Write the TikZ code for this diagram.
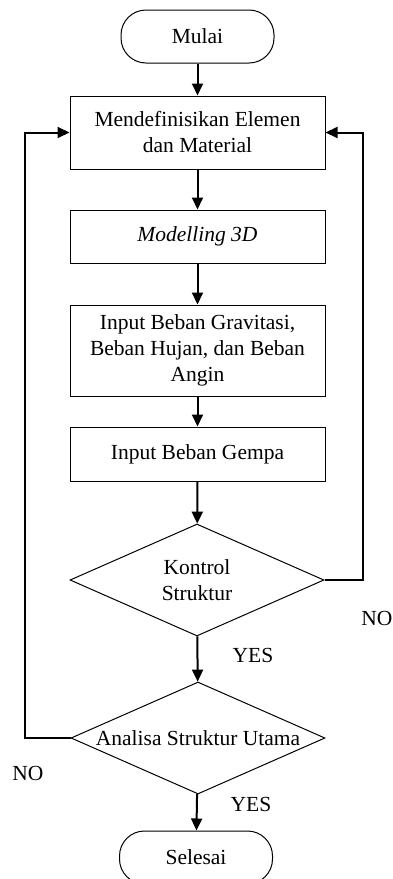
\documentclass[tikz,border=0pt]{standalone}
\usepackage{fontspec}
\setmainfont{Liberation Serif}
\usetikzlibrary{arrows.meta, shapes.geometric}

\begin{document}
\begin{tikzpicture}
[x=0.5pt, y=-0.5pt,
font=\fontsize{10.75}{13}\selectfont,
every node/.style={align=center, inner sep=0pt},
terminal/.style={draw, line width=0.5pt, rounded corners=12.5pt, minimum width=76.5pt, minimum height=26.5pt},
process/.style={draw, line width=0.5pt, minimum width=127.5pt},
decision/.style={draw, diamond, line width=0.5pt, aspect=2.27, minimum width=127pt, minimum height=56pt},
flow/.style={line width=1pt, -{Triangle[length=6pt, width=5.5pt]}}]
\useasboundingbox (0, 0) rectangle (392, 879);
\node [terminal] (mulai) at (197.5, 36.5) {Mulai};
\node [process, minimum height=36.5pt] (elemen) at (197.5, 132.5) {Mendefinisikan Elemen\\dan Material};
\node [process, minimum height=26.5pt] (model) at (197.5, 236.5) {\itshape Modelling 3D};
\node [process, minimum height=45.5pt] (gravitasi) at (197.5, 350.5) {Input Beban Gravitasi,\\Beban Hujan, dan Beban\\Angin};
\node [process, minimum height=27pt] (gempa) at (197.5, 454) {Input Beban Gempa};
\node [decision] (kontrol) at (197, 580) {Kontrol\\Struktur};
\node [decision] (analisa) at (198, 738) {Analisa Struktur Utama};
\node [terminal] (selesai) at (196, 857.5) {Selesai};

\node (no1) at (377, 618) {NO};
\node (yes1) at (253, 655) {YES};
\node (no2) at (28, 773) {NO};
\node (yes2) at (251, 804) {YES};

\foreach \a/\b in {mulai/elemen, elemen/model, model/gravitasi, gravitasi/gempa, gempa/kontrol, kontrol/analisa, analisa/selesai}{
	\draw [flow] (\a) to (\b);
}
\draw [flow] (kontrol.east) -- ++(38, 0) |- (elemen.east);
\draw [flow] (analisa.west) -- ++(-46, 0) |- (elemen.west);
\end{tikzpicture}
\end{document}
